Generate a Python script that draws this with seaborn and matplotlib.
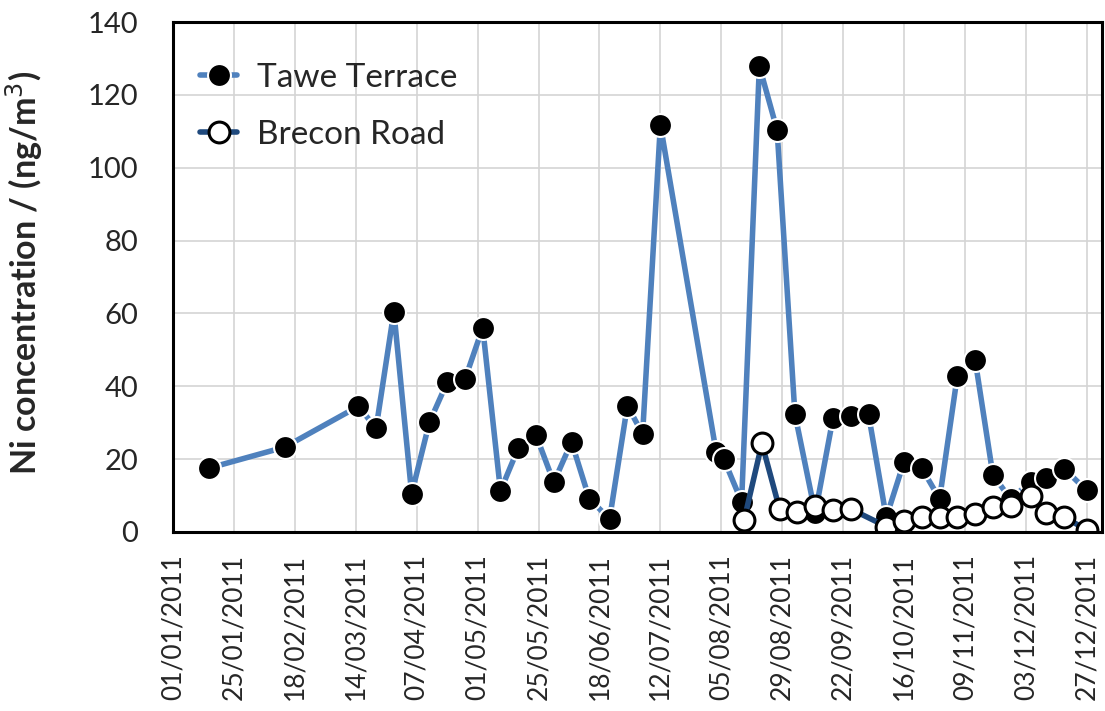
import pandas as pd
import matplotlib
matplotlib.use('Agg')
import matplotlib.pyplot as plt
import matplotlib.dates as mdates
import seaborn as sns

# Sampling dates and Ni concentrations (ng/m3)
tawe_dates = ['2011-01-15', '2011-02-14', '2011-03-15', '2011-03-22', '2011-03-29',
              '2011-04-05', '2011-04-12', '2011-04-19', '2011-04-26', '2011-05-03',
              '2011-05-10', '2011-05-17', '2011-05-24', '2011-05-31', '2011-06-07',
              '2011-06-14', '2011-06-22', '2011-06-29', '2011-07-05', '2011-07-12',
              '2011-08-03', '2011-08-06', '2011-08-13', '2011-08-20', '2011-08-27',
              '2011-09-03', '2011-09-11', '2011-09-18', '2011-09-25', '2011-10-02',
              '2011-10-09', '2011-10-16', '2011-10-23', '2011-10-30', '2011-11-06',
              '2011-11-13', '2011-11-20', '2011-11-27', '2011-12-05', '2011-12-11',
              '2011-12-18', '2011-12-27']
tawe_values = [17.5, 23.3, 34.5, 28.5, 60.5, 10.5, 30.1, 41.1, 41.9, 56.1,
               11.3, 23.0, 26.6, 13.6, 24.7, 9.1, 3.6, 34.7, 26.9, 111.8,
               21.9, 20.0, 8.3, 127.9, 110.3, 32.4, 5.1, 31.2, 31.9, 32.3,
               4.0, 19.3, 17.5, 9.1, 42.9, 47.3, 15.7, 9.0, 13.8, 14.9,
               17.4, 11.4]

brecon_dates = ['2011-08-14', '2011-08-21', '2011-08-28', '2011-09-04', '2011-09-11',
                '2011-09-18', '2011-09-25', '2011-10-09', '2011-10-16', '2011-10-23',
                '2011-10-30', '2011-11-06', '2011-11-13', '2011-11-20', '2011-11-27',
                '2011-12-05', '2011-12-11', '2011-12-18', '2011-12-27']
brecon_values = [3.3, 24.3, 6.2, 5.4, 7.2, 6.0, 6.3, 1.5, 3.1, 4.0,
                 4.0, 4.2, 4.9, 6.9, 7.1, 10.0, 5.3, 4.2, 0.5]

tawe = pd.DataFrame({'Date': pd.to_datetime(tawe_dates), 'Ni': tawe_values})
brecon = pd.DataFrame({'Date': pd.to_datetime(brecon_dates), 'Ni': brecon_values})

sns.set_style('white')
plt.rcParams['font.family'] = ['Lato', 'DejaVu Sans']

fig = plt.figure(figsize=(11.05, 7.11), dpi=100)
ax = fig.add_axes([0.1566, 0.2518, 0.8407, 0.7172])

# Tawe Terrace: blue line, black markers with white rim
sns.lineplot(data=tawe, x='Date', y='Ni', ax=ax, color='#4F81BD', linewidth=4,
             marker='o', markersize=16.5, markerfacecolor='black',
             markeredgecolor='white', markeredgewidth=1.5, label='Tawe Terrace')
# Brecon Road: dark blue line, white markers with black rim
sns.lineplot(data=brecon, x='Date', y='Ni', ax=ax, color='#1F497D', linewidth=4,
             marker='o', markersize=15, markerfacecolor='white',
             markeredgecolor='black', markeredgewidth=2.2, label='Brecon Road')

# x ticks every 24 days from 01/01/2011
ticks = pd.date_range('2011-01-01', '2011-12-27', freq='24D')
ax.set_xticks(ticks)
ax.xaxis.set_major_formatter(mdates.DateFormatter('%d/%m/%Y'))
ax.set_xlim(pd.Timestamp('2011-01-01'), pd.Timestamp('2012-01-02'))
plt.setp(ax.get_xticklabels(), rotation=90)

ax.set_ylim(0, 140)
ax.set_yticks(range(0, 141, 20))

ax.grid(True, color='#d4d4d4', linewidth=1.2)
ax.set_axisbelow(True)
for side in ax.spines.values():
    side.set_color('black')
    side.set_linewidth(2.2)

ax.tick_params(axis='y', direction='out', length=9, width=2.2, labelsize=21, pad=16)
ax.tick_params(axis='x', direction='out', length=7, width=2.2, labelsize=19, pad=9)

ax.set_xlabel('')
ax.set_ylabel('Ni concentration / (ng/m$^3$)', fontsize=24.5, fontweight='bold')
ax.yaxis.set_label_coords(-0.138, 0.507)

ax.legend(loc='upper left', bbox_to_anchor=(-0.0065, 0.985), frameon=False, fontsize=24,
          handlelength=1.1, handletextpad=0.6, labelspacing=0.8, borderaxespad=0.6)

plt.savefig('out.png', dpi=100)
